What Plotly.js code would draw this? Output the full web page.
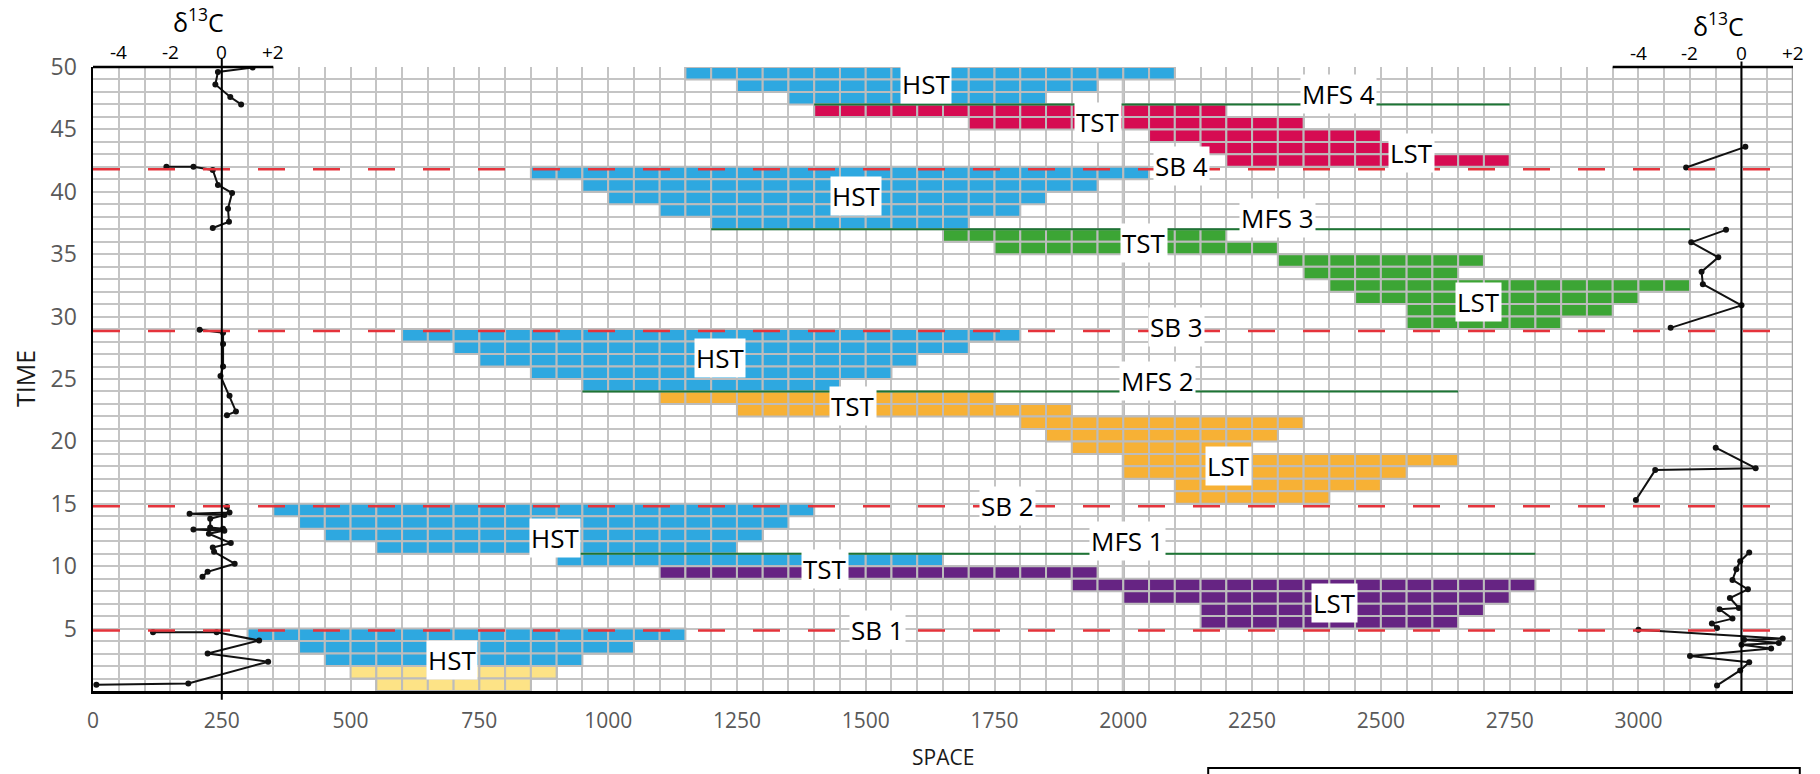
<!DOCTYPE html>
<html>
<head>
<meta charset="utf-8">
<script src="https://cdn.plot.ly/plotly-3.0.1.min.js"></script>
<style>
  html, body { margin: 0; padding: 0; background: #ffffff; }
  #chart { width: 1820px; height: 774px; }
</style>
</head>
<body>
<div id="chart"></div>
<script>
// ---------------------------------------------------------------
// Sequence-stratigraphic Wheeler diagram: space (x) vs time (y)
// Each systems tract is a set of one-unit time rows, each row
// filled from a start to an end position in space.
// ---------------------------------------------------------------

// Highstand systems tracts (blue)
const hstRows  = [49, 48, 47, 41, 40, 39, 38, 37, 28, 27, 26, 25, 24, 14, 13, 12, 11, 10, 4, 3, 2];
const hstStart = [1150, 1250, 1350, 850, 950, 1000, 1100, 1200, 600, 700, 750, 850, 950, 350, 400, 450, 550, 900, 300, 400, 450];
const hstEnd   = [2100, 1950, 1850, 2050, 1950, 1850, 1800, 1700, 1800, 1700, 1600, 1550, 1450, 1400, 1350, 1300, 1250, 1650, 1150, 1050, 950];

// Oldest highstand deposits (pale yellow)
const baseRows  = [1, 0];
const baseStart = [500, 550];
const baseEnd   = [900, 850];

// Sequence 1 transgressive + lowstand (purple)
const seq1Rows  = [9, 8, 7, 6, 5];
const seq1Start = [1100, 1900, 2000, 2150, 2150];
const seq1End   = [1950, 2800, 2750, 2700, 2650];

// Sequence 2 transgressive + lowstand (orange)
const seq2Rows  = [23, 22, 21, 20, 19, 18, 17, 16, 15];
const seq2Start = [1100, 1250, 1800, 1850, 1900, 2000, 2000, 2100, 2100];
const seq2End   = [1750, 1900, 2350, 2300, 2250, 2650, 2550, 2500, 2400];

// Sequence 3 transgressive + lowstand (green)
const seq3Rows  = [36, 35, 34, 33, 32, 31, 30, 29];
const seq3Start = [1650, 1750, 2300, 2350, 2400, 2450, 2550, 2550];
const seq3End   = [2200, 2300, 2700, 2650, 3100, 3000, 2950, 2850];

// Sequence 4 transgressive + lowstand (crimson)
const seq4Rows  = [46, 45, 44, 43, 42];
const seq4Start = [1400, 1700, 2050, 2150, 2200];
const seq4End   = [2200, 2350, 2500, 2550, 2750];

// Sequence boundaries (time) and maximum flooding surfaces
const sbTimes  = [4.85, 14.8, 28.85, 41.8];
const mfsTimes = [11, 24, 37, 47];
const mfsStart = [900, 950, 1200, 1400];
const mfsEnd   = [2800, 2650, 3100, 2750];

// Axis ticks
const spaceTicks = [0, 250, 500, 750, 1000, 1250, 1500, 1750, 2000, 2250, 2500, 2750, 3000];
const timeTicks  = [5, 10, 15, 20, 25, 30, 35, 40, 45, 50];
const deltaTicks = [-4, -2, 0, 2];
const deltaTickText = ['-4', '-2', '0', '+2'];

// δ13C profiles (per mil), split into measured segments
const leftSegTime = [
  [49.95, 49.6, 48.6, 47.6, 47.0],
  [42.0, 42.0, 41.75, 40.55, 39.9, 38.65, 37.6, 37.1],
  [28.95, 28.7, 27.8, 26.0, 25.25, 23.65, 22.4, 22.1],
  [14.75, 14.3, 14.2, 14.1, 13.8, 13.1, 13.0, 12.95, 12.85, 12.6, 11.85, 11.5, 11.15, 10.2, 9.55, 9.15],
  [4.7, 4.7, 4.05, 3.0, 2.35, 0.6, 0.5]
];
const leftSegDelta = [
  [1.2, -0.15, -0.25, 0.33, 0.75],
  [-2.15, -1.1, -0.35, -0.15, 0.4, 0.24, 0.28, -0.35],
  [-0.86, 0.05, 0.05, 0.05, -0.05, 0.3, 0.55, 0.2],
  [0.2, 0.3, -1.25, 0.1, -0.45, -0.45, 0.05, -1.1, 0.1, -0.5, 0.35, -0.35, -0.3, 0.5, -0.55, -0.75],
  [-2.67, -0.2, 1.45, -0.55, 1.8, -1.3, -4.87]
];
const rightSegTime = [
  [43.6, 41.95],
  [36.95, 35.95, 34.75, 33.6, 32.6, 30.9, 29.1],
  [19.5, 17.85, 17.7, 15.3],
  [11.1, 10.4, 9.75, 8.9, 8.15, 7.45, 6.65, 6.55, 5.8, 5.4, 5.05],
  [4.9, 4.2, 4.1, 3.85, 3.7, 3.4, 2.8, 2.3, 1.65, 0.45]
];
const rightSegDelta = [
  [0.15, -2.15],
  [-0.6, -1.95, -0.9, -1.55, -1.5, 0.0, -2.75],
  [-1.0, 0.55, -3.35, -4.1],
  [0.3, -0.05, -0.2, -0.35, 0.25, -0.45, -0.1, -0.85, -0.35, -1.15, -0.95],
  [-4.0, 1.6, 0.1, 1.45, 0.0, 1.15, -2.0, 0.3, -0.05, -0.95]
];

// ---------------------------------------------------------------
// Geometry of the plot
// ---------------------------------------------------------------
const CELL = 50;               // grid cell width in space units
const SPACE_MAX = 3300;
const TIME_MAX = 50;
const LEFT_ZERO = 250;         // where δ13C = 0 sits on the left profile
const RIGHT_ZERO = 3200;       // where δ13C = 0 sits on the right profile
const PER_MIL = 50;            // space units per 1 ‰
const FONT = 'Open Sans, Noto Sans, sans-serif';

const COLORS = {
  hst: '#2ea8e0', base: '#fde386', seq1: '#662483',
  seq2: '#f7b135', seq3: '#3ca535', seq4: '#d60b52',
  cellLine: '#bcbcbc', grid: '#c4c4c4', sb: '#e5333b', mfs: '#1d7534'
};

// Split each row into grid cells so the cell borders stay visible on top
function tractTrace(rows, starts, ends, color) {
  const y = [], base = [], len = [];
  rows.forEach((r, i) => {
    for (let s = starts[i]; s < ends[i]; s += CELL) {
      y.push(r + 0.5);
      base.push(s);
      len.push(Math.min(CELL, ends[i] - s));
    }
  });
  return {
    type: 'bar', orientation: 'h', y: y, x: len, base: base, width: 1,
    marker: { color: color, line: { color: COLORS.cellLine, width: 2 } },
    hoverinfo: 'skip'
  };
}

function profileTrace(segTime, segDelta, zero) {
  const x = [], y = [];
  segTime.forEach((seg, k) => {
    if (k > 0) { x.push(null); y.push(null); }
    seg.forEach((t, i) => { y.push(t); x.push(zero + segDelta[k][i] * PER_MIL); });
  });
  return {
    type: 'scatter', mode: 'lines+markers', x: x, y: y, connectgaps: false,
    line: { color: '#111111', width: 2 },
    marker: { color: '#111111', size: 6 },
    hoverinfo: 'skip'
  };
}

const traces = [
  tractTrace(hstRows, hstStart, hstEnd, COLORS.hst),
  tractTrace(baseRows, baseStart, baseEnd, COLORS.base),
  tractTrace(seq1Rows, seq1Start, seq1End, COLORS.seq1),
  tractTrace(seq2Rows, seq2Start, seq2End, COLORS.seq2),
  tractTrace(seq3Rows, seq3Start, seq3End, COLORS.seq3),
  tractTrace(seq4Rows, seq4Start, seq4End, COLORS.seq4),
  profileTrace(leftSegTime, leftSegDelta, LEFT_ZERO),
  profileTrace(rightSegTime, rightSegDelta, RIGHT_ZERO)
];

// ---------------------------------------------------------------
// Shapes: surfaces, profile axes, frame details
// ---------------------------------------------------------------
const shapes = [];

// darker column line at 2000
shapes.push({ type: 'line', layer: 'below', xref: 'x', yref: 'paper', x0: 2000, x1: 2000, y0: 0, y1: 1,
  line: { color: '#a9a9a9', width: 3 } });
// right frame edge
shapes.push({ type: 'line', xref: 'x', yref: 'paper', x0: SPACE_MAX, x1: SPACE_MAX, y0: 0, y1: 1,
  line: { color: '#a3a3a3', width: 2.5 } });

sbTimes.forEach(t => shapes.push({
  type: 'line', xref: 'x', yref: 'y', x0: 0, x1: SPACE_MAX, y0: t, y1: t,
  line: { color: COLORS.sb, width: 2.5, dash: '27px,28px' }
}));
mfsTimes.forEach((t, i) => shapes.push({
  type: 'line', xref: 'x', yref: 'y', x0: mfsStart[i], x1: mfsEnd[i], y0: t, y1: t,
  line: { color: COLORS.mfs, width: 2 }
}));

// δ13C profile axes (top scale bars and zero lines)
const deltaMin = -5, deltaMax = 2;
[LEFT_ZERO, RIGHT_ZERO].forEach(zero => {
  shapes.push({ type: 'line', xref: 'x', yref: 'paper',
    x0: zero + deltaMin * PER_MIL, x1: zero + deltaMax * PER_MIL, y0: 1, y1: 1,
    line: { color: '#000000', width: 2.5 } });
});
shapes.push({ type: 'line', xref: 'x', yref: 'paper', x0: LEFT_ZERO, x1: LEFT_ZERO, y0: -0.014, y1: 1.014,
  line: { color: '#000000', width: 2 } });
shapes.push({ type: 'line', xref: 'x', yref: 'paper', x0: RIGHT_ZERO, x1: RIGHT_ZERO, y0: 0, y1: 1.009,
  line: { color: '#000000', width: 2 } });

// key box along the lower edge
shapes.push({ type: 'rect', xref: 'paper', yref: 'paper', x0: 0.656, x1: 1.004, y0: -0.30, y1: -0.1235,
  line: { color: '#000000', width: 2 }, fillcolor: 'rgba(0,0,0,0)' });

// ---------------------------------------------------------------
// Annotations: tract labels, surface labels, titles
// ---------------------------------------------------------------
const labelFont = { family: FONT, size: 26, color: '#000000' };
function label(text, x, y) {
  return { text: text, x: x, y: y, xref: 'x', yref: 'y', xanchor: 'center', yanchor: 'middle',
    showarrow: false, bgcolor: '#ffffff', borderpad: 1, font: labelFont };
}
const annotations = [
  label('HST', 1617, 48.6), label('TST', 1951, 45.6), label('MFS 4', 2418, 47.8),
  label('LST', 2560, 43.1), label('SB 4', 2113, 42.07),
  label('HST', 1482, 39.7), label('MFS 3', 2299, 37.9), label('TST', 2041, 35.9),
  label('LST', 2689, 31.2), label('SB 3', 2103, 29.17),
  label('HST', 1218, 26.7), label('MFS 2', 2067, 24.84), label('TST', 1475, 22.8),
  label('LST', 2204, 18.0), label('SB 2', 1776, 14.8),
  label('HST', 896, 12.3), label('MFS 1', 2009, 12.0), label('TST', 1420, 9.8),
  label('LST', 2409, 7.05), label('SB 1', 1522, 4.9), label('HST', 696, 2.5)
];

// δ13C scale labels above each profile
[[LEFT_ZERO, 15, 47, 205], [RIGHT_ZERO, 14, 43, 3155]].forEach(([zero, tickShift, titleShift, titleX]) => {
  deltaTicks.forEach((d, i) => annotations.push({
    text: deltaTickText[i], x: zero + d * PER_MIL, y: 1, xref: 'x', yref: 'paper',
    xanchor: 'center', yanchor: 'middle', yshift: tickShift, showarrow: false,
    font: { family: FONT, size: 19, color: '#000000' }
  }));
  annotations.push({
    text: 'δ<sup>13</sup>C', x: titleX, y: 1, xref: 'x', yref: 'paper',
    xanchor: 'center', yanchor: 'middle', yshift: titleShift, showarrow: false,
    font: { family: FONT, size: 25, color: '#000000' }
  });
});

// axis titles
annotations.push({ text: 'TIME', x: -0.04, y: 0.5, xref: 'paper', yref: 'paper', textangle: -90,
  xanchor: 'center', yanchor: 'middle',
  showarrow: false, font: { family: FONT, size: 25, color: '#1a1a1a' } });
annotations.push({ text: 'SPACE', x: 0.5, y: -0.106, xref: 'paper', yref: 'paper',
  xanchor: 'center', yanchor: 'middle',
  showarrow: false, font: { family: FONT, size: 21, color: '#1a1a1a' } });

const layout = {
  width: 1820, height: 774,
  margin: { l: 93, r: 27, t: 67, b: 83, pad: 0 },
  paper_bgcolor: '#ffffff', plot_bgcolor: '#ffffff',
  showlegend: false, barmode: 'overlay', hovermode: false,
  font: { family: FONT },
  xaxis: {
    range: [0, SPACE_MAX], tickmode: 'array', tickvals: spaceTicks,
    ticks: '', ticklabelstandoff: 9,
    tickfont: { family: FONT, size: 21, color: '#595959' },
    showgrid: true, gridcolor: COLORS.grid, gridwidth: 2,
    minor: { tickmode: 'linear', tick0: 0, dtick: CELL, showgrid: true, gridcolor: COLORS.grid, gridwidth: 2, ticks: '' },
    zeroline: false, showline: true, linecolor: '#000000', linewidth: 2.5, fixedrange: true
  },
  yaxis: {
    range: [0, TIME_MAX], tickmode: 'array', tickvals: timeTicks,
    ticks: '', ticklabelstandoff: 9,
    tickfont: { family: FONT, size: 23, color: '#595959' },
    showgrid: true, gridcolor: COLORS.grid, gridwidth: 2,
    minor: { tickmode: 'linear', tick0: 0, dtick: 1, showgrid: true, gridcolor: COLORS.grid, gridwidth: 2, ticks: '' },
    zeroline: false, showline: true, linecolor: '#000000', linewidth: 2.5, fixedrange: true
  },
  shapes: shapes,
  annotations: annotations
};

Plotly.newPlot('chart', traces, layout, { staticPlot: true, displayModeBar: false });
</script>
</body>
</html>
